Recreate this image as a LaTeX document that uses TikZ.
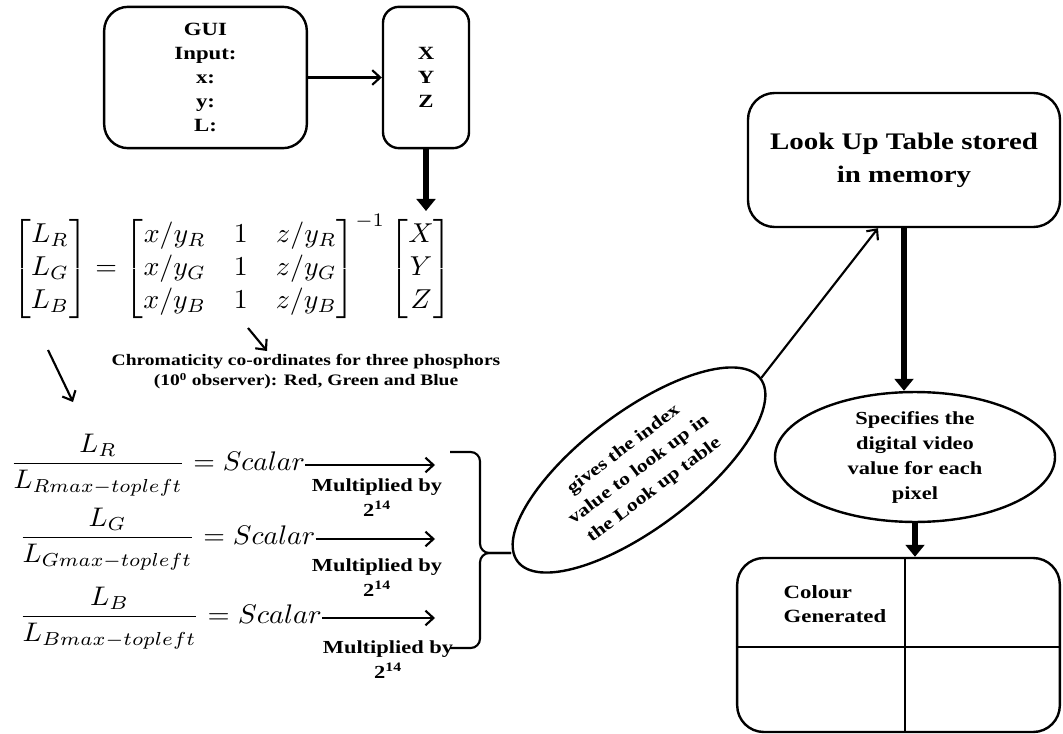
\documentclass[tikz,border=0pt]{standalone}
\usepackage{amsmath}
\usepackage{graphicx}
\usepackage{fontspec}
\setmainfont{Liberation Serif}[FakeStretch=1.22]
\usetikzlibrary{arrows.meta,shapes.geometric,calc}

\begin{document}
\begin{tikzpicture}[x=0.75pt,y=-0.75pt,
  box/.style={draw, line width=1.8pt, inner sep=0pt},
  txt/.style={font=\bfseries\fontsize{14pt}{18pt}\selectfont, align=center},
  small/.style={font=\bfseries\fontsize{12pt}{15pt}\selectfont, align=center},
  multxt/.style={font=\bfseries\fontsize{13.8pt}{18.75pt}\selectfont, align=center},
  thinarrow/.style={line width=1.6pt, -{Straight Barb[length=6pt,width=11pt]}},
  thickarrow/.style={line width=4.5pt, -{Triangle[length=9pt,width=14pt]}},
  brace/.style={line width=1.6pt, rounded corners=7pt},
]
\useasboundingbox (0,0) rectangle (1063,734);

% input boxes
\node[box, rounded corners=18pt, minimum width=152pt, minimum height=106pt, txt]
  (gui) at (205.5,77.5) {GUI\\Input:\\x:\\y:\\L:};
\node[box, rounded corners=12pt, minimum width=64.5pt, minimum height=106pt, txt]
  (xyz) at (426,77.5) {X\\Y\\Z};
\draw[thinarrow] (gui.east) -- (xyz.west);

% conversion equation
\node[anchor=north west, inner sep=0pt] (eq) at (12,214)
  {\resizebox*{330pt}{78pt}{$\begin{bmatrix}L_R\\L_G\\L_B\end{bmatrix}
   = \begin{bmatrix}x/y_R & 1 & z/y_R\\ x/y_G & 1 & z/y_G\\ x/y_B & 1 & z/y_B\end{bmatrix}^{-1}
   \begin{bmatrix}X\\Y\\Z\end{bmatrix}$}};
\coordinate (eqtop) at (426,211);
\draw[thickarrow] (xyz.south) -- (eqtop);

\node[small] (chr) at (306,372)
  {Chromaticity co-ordinates for three phosphors\\(10\textsuperscript{0} observer): Red, Green and Blue};
\coordinate (m1) at (248,328);
\coordinate (m2) at (267,351);
\draw[thinarrow] (m1) -- (m2);
\coordinate (l1) at (48,350);
\coordinate (l2) at (73,402);
\draw[thinarrow] (l1) -- (l2);

% normalised scalars
\node[anchor=west, inner sep=0pt] (f1) at (10,465)
  {\resizebox*{221pt}{47pt}{$\dfrac{L_R}{L_{Rmax-topleft}} = Scalar$}};
\node[anchor=west, inner sep=0pt] (f2) at (19,539)
  {\resizebox*{222pt}{47pt}{$\dfrac{L_G}{L_{Gmax-topleft}} = Scalar$}};
\node[anchor=west, inner sep=0pt] (f3) at (19,618)
  {\resizebox*{227pt}{47pt}{$\dfrac{L_B}{L_{Bmax-topleft}} = Scalar$}};
\coordinate (bx) at (435,0);
\draw[thinarrow] (f1.east) -- (f1.east -| bx);
\draw[thinarrow] (f2.east) -- (f2.east -| bx);
\draw[thinarrow] (f3.east) -- (f3.east -| bx);

\node[multxt] (mul1) at (377,498) {Multiplied by\\2\textsuperscript{14}};
\node[multxt] (mul2) at (377,578) {Multiplied by\\2\textsuperscript{14}};
\node[multxt] (mul3) at (388,660) {Multiplied by\\2\textsuperscript{14}};

% index ellipse and the brace gathering the three values
\node[draw, ellipse, line width=1.8pt, rotate=37, minimum width=228pt, minimum height=87pt,
  inner sep=0pt, font=\bfseries\fontsize{13.3pt}{19pt}\selectfont, align=center]
  (e1) at (639,470) {gives the index\\value to look up in\\the Look up table};
\coordinate (bt) at (511,553);
\draw[brace] (450,452) -- (480,452) -- (480,553) -- (bt);
\draw[brace] (450,648) -- (480,648) -- (480,553) -- (bt);

% look up table and output
\node[box, rounded corners=20pt, minimum width=234pt, minimum height=100.5pt,
  font=\bfseries\fontsize{17.8pt}{24.75pt}\selectfont, align=center]
  (lut) at (904,160) {Look Up Table stored\\in memory};
\draw[thinarrow] (e1.east) -- ([xshift=-19.5pt]lut.south);

\node[draw, ellipse, line width=1.8pt, minimum width=210pt, minimum height=89pt, inner sep=0pt,
  font=\bfseries\fontsize{13.8pt}{18.75pt}\selectfont, align=center]
  (e2) at (915,457) {Specifies the\\digital video\\value for each\\pixel};
\draw[thickarrow] (lut.south) -- (lut.south |- e2.north);

\node[box, rounded corners=20pt, minimum width=242pt, minimum height=130.5pt]
  (grid) at (898.5,645) {};
\draw[line width=1.8pt] (905,558) -- (905,732);
\draw[line width=1.8pt] (grid.west |- 0,647) -- (grid.east |- 0,647);
\draw[thickarrow] (e2.south) -- (e2.south |- grid.north);
\node[txt, align=left, anchor=base west] (cg) at (779,622) {Colour\\Generated};

\end{tikzpicture}
\end{document}
